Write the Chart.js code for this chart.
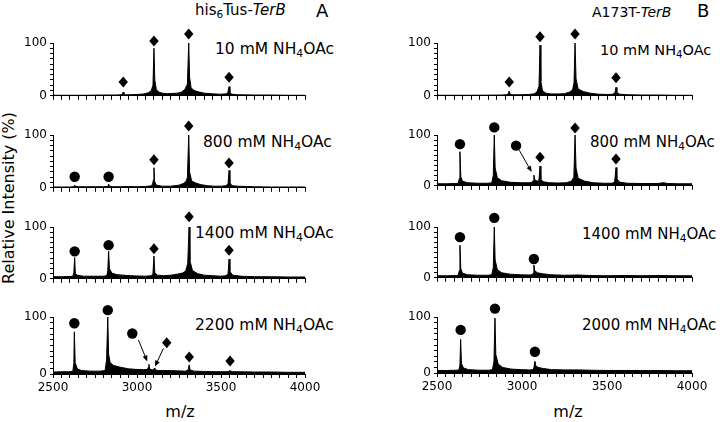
<!DOCTYPE html>
<html><head><meta charset="utf-8">
<script src="https://cdn.jsdelivr.net/npm/chart.js@4/dist/chart.umd.min.js"></script>
<style>
html,body{margin:0;padding:0;background:#fff;width:720px;height:422px;overflow:hidden;}
body{position:relative;font-family:'DejaVu Sans',Verdana,sans-serif;color:#000;}
canvas{position:absolute;}
.t{position:absolute;white-space:nowrap;line-height:1;}
.sub{font-size:0.7em;position:relative;top:0.3em;}
</style></head><body>

<div class="t" style="left:195px;top:3px;font-size:15px;">his<span class="sub">6</span>Tus-<i>TerB</i></div>
<div class="t" style="left:316px;top:2px;font-size:18px;">A</div>
<div class="t" style="left:592px;top:5px;font-size:14px;">A173T-<i>TerB</i></div>
<div class="t" style="left:697px;top:2px;font-size:18px;">B</div>

<div class="t" style="left:215px;top:42px;font-size:15.5px;">10 mM NH<span class="sub">4</span>OAc</div>
<div class="t" style="left:203px;top:135px;font-size:15.5px;">800 mM NH<span class="sub">4</span>OAc</div>
<div class="t" style="left:195px;top:226px;font-size:15.5px;">1400 mM NH<span class="sub">4</span>OAc</div>
<div class="t" style="left:195px;top:318px;font-size:15.5px;">2200 mM NH<span class="sub">4</span>OAc</div>
<div class="t" style="left:600px;top:43px;font-size:14.5px;">10 mM NH<span class="sub">4</span>OAc</div>
<div class="t" style="left:590px;top:135px;font-size:15px;">800 mM NH<span class="sub">4</span>OAc</div>
<div class="t" style="left:582px;top:227px;font-size:15px;">1400 mM NH<span class="sub">4</span>OAc</div>
<div class="t" style="left:582px;top:318px;font-size:15px;">2000 mM NH<span class="sub">4</span>OAc</div>

<div class="t" style="left:9px;top:198px;font-size:16px;transform:translate(-50%,-50%) rotate(-90deg);">Relative Intensity (%)</div>
<div class="t" style="left:180px;top:404px;font-size:16px;transform:translateX(-50%);">m/z</div>
<div class="t" style="left:568px;top:404px;font-size:16px;transform:translateX(-50%);">m/z</div>

<script>
// ---------- DATA ----------
const xTickLabels = [2500, 3000, 3500, 4000];
const yTickLabels = [0, 100];

// Panel A (his6Tus-TerB)
const mzL1 = [2500,2600,2700,2800,2880,2905,2912,2918,2922,2930,2960,3000,3040,3070,3085,3095,3101,3106,3115,3130,3150,3180,3210,3240,3265,3285,3300,3308,3313,3322,3340,3370,3400,3440,3490,3525,3540,3548,3553,3565,3600,3700,3800,3900,4000];
const intL1 = [1,1,1,1.5,1.5,2,3,7,3,2,2,2.5,3.5,6,10,20,90,30,12,7,5,4,4.5,5,7,12,22,100,35,15,10,7,5,4,3,3.5,5,17.5,6,3,2,1.5,1.5,1,1];
const circL1 = [];
const diaL1 = [[2918,26],[3101,104],[3308,117],[3548,35]];

const mzL2 = [2500,2600,2620,2626,2629,2633,2650,2700,2800,2822,2828,2831,2835,2860,2900,2950,3000,3050,3080,3092,3098,3101,3105,3115,3150,3200,3250,3275,3292,3300,3308,3313,3325,3350,3380,3420,3460,3500,3530,3542,3548,3553,3565,3600,3700,3800,3900,4000];
const intL2 = [1.5,1.5,2,3,5,2.5,2,2,2,2.5,4,7,3,2,2,2.5,2,2.5,3.5,6,15,38,12,5,3,3,5,8,12,20,100,30,13,9,6,4,3,3,4,8,33,10,4,3,2,1.5,1.5,1.5];
const circL2 = [[2629,21],[2831,21]];
const diaL2 = [[3101,53],[3308,117],[3548,47]];

const mzL3 = [2500,2560,2600,2618,2624,2629,2633,2645,2680,2740,2800,2820,2826,2831,2836,2850,2880,2920,2960,3000,3050,3085,3095,3101,3106,3120,3160,3200,3240,3270,3290,3302,3310,3315,3330,3360,3400,3450,3500,3530,3542,3548,3553,3570,3620,3700,3800,3900,4000];
const intL3 = [4,4,4.5,5,12,41,10,7,5,5,5,6,15,53,20,11,8,7,6,5.5,5,6,10,44,12,7,6,7,9,11,15,30,100,35,16,10,7,6,5,6,10,38,14,7,5,4,4,3.5,3.5];
const circL3 = [[2629,53],[2831,65]];
const diaL3 = [[3101,58],[3310,120],[3548,55]];

const mzL4 = [2500,2560,2600,2618,2624,2627,2632,2645,2670,2720,2780,2810,2819,2826,2831,2840,2860,2900,2950,3000,3040,3062,3068,3071,3075,3090,3098,3103,3107,3130,3180,3240,3290,3304,3311,3316,3340,3400,3470,3530,3548,3554,3558,3600,3700,3800,3900,4000];
const intL4 = [3.5,4,4,5,18,74,20,9,6,5,5,6,25,100,35,20,15,12,9,8,7.5,8,12,17,9,7,8,10,7,6,6,5.5,5,7,16,7,5,4.5,4,4,4.5,6,4,4,3.5,3.5,3,3];
const circL4 = [[2627,89],[2826,112],[2972,71]];
const diaL4 = [[3177,55],[3311,30],[3554,23]];
const arrowsL4 = [[3008,60,3061,22],[3157,45,3107,13]];

// Panel B (A173T-TerB)
const mzR1 = [2500,2600,2700,2800,2880,2910,2918,2925,2930,2945,2990,3040,3075,3090,3100,3106,3111,3120,3140,3170,3210,3250,3280,3298,3306,3312,3318,3330,3360,3400,3450,3500,3535,3547,3553,3558,3575,3620,3700,3800,3900,4000];
const intR1 = [1,1,1,1.2,1.5,2,3,9,3,2,2,2.5,4,9,18,96,28,10,5,3.5,3.5,4,7,12,25,100,32,13,8,5,3,2.5,3,6,16,6,3,2,1.5,1.5,1,1];
const circR1 = [];
const diaR1 = [[2925,26],[3106,112],[3312,117],[3553,34]];

const mzR2 = [2500,2560,2610,2625,2631,2635,2640,2650,2680,2740,2800,2822,2831,2837,2842,2855,2880,2930,2990,3040,3058,3065,3070,3075,3090,3100,3106,3111,3125,3160,3210,3260,3290,3305,3312,3318,3330,3370,3420,3480,3530,3545,3553,3558,3575,3620,3700,3800,3830,3860,3920,4000];
const intR2 = [4,4,4.5,5,14,67,18,9,6,5,5,6,20,100,35,16,10,7,6,6,7,10,21,12,9,12,39,13,8,6,5.5,6,9,17,100,35,15,9,6,5,5,8,36,14,7,5,4.5,4.5,6,4.5,4,4];
const circR2 = [[2635,82],[2837,115],[2965,79]];
const diaR2 = [[3106,56],[3312,114],[3553,53]];
const arrowsR2 = [[2984,70,3057,27]];

const mzR3 = [2500,2560,2610,2625,2631,2635,2640,2650,2680,2740,2800,2822,2831,2837,2842,2855,2880,2930,2990,3040,3058,3065,3070,3075,3090,3120,3170,3250,3330,3400,3500,3600,3700,3800,3900,4000];
const intR3 = [4,4,4.5,5,14,64,18,9,6,5,5,6,20,100,35,16,10,7,6,5.5,6,9,25,14,10,8,6,5,5.5,4.5,4,4.5,4,4.5,4,4];
const circR3 = [[2635,80],[2837,118],[3070,37]];
const diaR3 = [];

const mzR4 = [2500,2560,2615,2629,2635,2639,2644,2655,2685,2745,2805,2826,2835,2841,2846,2860,2885,2935,2995,3045,3063,3070,3076,3081,3095,3125,3175,3255,3330,3400,3500,3600,3700,3800,3900,4000];
const intR4 = [4.5,4.5,5,5.5,14,60,17,9,6,5,5,6,20,98,33,16,10,7,6,5.5,6,9,21,13,10,8,6,5.5,5.5,5,4.5,4.5,4.5,4.5,4,4];
const circR4 = [[2639,77],[2841,115],[3076,38]];
const diaR4 = [];

// ---------- LAYOUT ----------
const SIDES = {
  L: {canvasLeft: 0, plotLeft: 53, plotRight: 305, rows: [[43,100],[135,192],[227,283],[317,374]]},
  R: {canvasLeft: 380, plotLeft: 437, plotRight: 692, rows: [[43,100],[135,190],[227,282],[317,373]]}
};
const CW = 340, PADTOP = 25;

const panels = [
  {side:'L', row:0, mz:mzL1, y:intL1, circ:circL1, dia:diaL1, arrows:[]},
  {side:'L', row:1, mz:mzL2, y:intL2, circ:circL2, dia:diaL2, arrows:[]},
  {side:'L', row:2, mz:mzL3, y:intL3, circ:circL3, dia:diaL3, arrows:[]},
  {side:'L', row:3, mz:mzL4, y:intL4, circ:circL4, dia:diaL4, arrows:arrowsL4},
  {side:'R', row:0, mz:mzR1, y:intR1, circ:circR1, dia:diaR1, arrows:[]},
  {side:'R', row:1, mz:mzR2, y:intR2, circ:circR2, dia:diaR2, arrows:arrowsR2},
  {side:'R', row:2, mz:mzR3, y:intR3, circ:circR3, dia:diaR3, arrows:[]},
  {side:'R', row:3, mz:mzR4, y:intR4, circ:circR4, dia:diaR4, arrows:[]}
];

Chart.defaults.font.family = "'DejaVu Sans', Verdana, sans-serif";
Chart.defaults.color = '#000';

// Draws peak markers (circles, diamonds) and arrows through the chart's scales
const markerPlugin = {
  id: 'markers',
  afterDatasetsDraw(chart, args, opts) {
    const ctx = chart.ctx, xs = chart.scales.x, ys = chart.scales.y;
    ctx.save();
    ctx.strokeStyle = '#000'; ctx.fillStyle = '#000'; ctx.lineWidth = 1;
    (opts.arrows || []).forEach(a => {
      const x1 = xs.getPixelForValue(a[0]), y1 = ys.getPixelForValue(a[1]);
      const x2 = xs.getPixelForValue(a[2]), y2 = ys.getPixelForValue(a[3]);
      const ang = Math.atan2(y2 - y1, x2 - x1), L = 6, W = 2.5;
      const bx = x2 - L * Math.cos(ang), by = y2 - L * Math.sin(ang);
      ctx.beginPath(); ctx.moveTo(x1, y1); ctx.lineTo(bx, by); ctx.stroke();
      ctx.beginPath();
      ctx.moveTo(x2, y2);
      ctx.lineTo(bx + W * Math.sin(ang), by - W * Math.cos(ang));
      ctx.lineTo(bx - W * Math.sin(ang), by + W * Math.cos(ang));
      ctx.closePath(); ctx.fill();
    });
    (opts.circles || []).forEach(c => {
      const px = xs.getPixelForValue(c[0]), py = ys.getPixelForValue(c[1]);
      ctx.beginPath(); ctx.arc(px, py, 5.2, 0, Math.PI * 2); ctx.fill();
    });
    (opts.diamonds || []).forEach(c => {
      const px = xs.getPixelForValue(c[0]), py = ys.getPixelForValue(c[1]);
      ctx.beginPath();
      ctx.moveTo(px, py - 5.5); ctx.lineTo(px + 4.7, py);
      ctx.lineTo(px, py + 5.5); ctx.lineTo(px - 4.7, py);
      ctx.closePath(); ctx.fill();
    });
    ctx.restore();
  }
};

const xTickValues = [];
for (let v = xTickLabels[0]; v <= xTickLabels[xTickLabels.length - 1]; v += 50) xTickValues.push(v);
const yTickValues = [];
for (let v = yTickLabels[0]; v <= yTickLabels[1]; v += 10) yTickValues.push(v);

panels.forEach(p => {
  const S = SIDES[p.side];
  const [top, bottom] = S.rows[p.row];
  const isBottom = p.row === 3;
  const xH = isBottom ? 28 : 6;
  const h = PADTOP + (bottom - top) + xH;
  const cv = document.createElement('canvas');
  cv.width = CW; cv.height = h;
  cv.style.left = S.canvasLeft + 'px';
  cv.style.top = (top - PADTOP) + 'px';
  cv.style.width = CW + 'px'; cv.style.height = h + 'px';
  document.body.appendChild(cv);
  const yW = S.plotLeft - S.canvasLeft;
  const padR = S.canvasLeft + CW - S.plotRight;

  new Chart(cv.getContext('2d'), {
    type: 'line',
    data: {
      datasets: [
        {
          data: p.mz.map((m, i) => ({x: m, y: p.y[i]})),
          borderColor: '#000', backgroundColor: '#000', borderWidth: 1,
          fill: 'origin', pointRadius: 0, tension: 0
        }
      ]
    },
    plugins: [markerPlugin],
    options: {
      responsive: false, animation: false, events: [],
      layout: {padding: {left: 0, right: padR, top: PADTOP, bottom: 0}},
      plugins: {
        legend: {display: false}, tooltip: {enabled: false},
        markers: {arrows: p.arrows, circles: p.circ, diamonds: p.dia}
      },
      scales: {
        x: {
          type: 'linear', min: xTickLabels[0], max: xTickLabels[xTickLabels.length - 1],
          afterBuildTicks: s => { s.ticks = xTickValues.map(v => ({value: v})); },
          afterFit: s => { s.height = xH; },
          ticks: {
            display: isBottom, autoSkip: false, maxRotation: 0, padding: 3,
            font: {size: 12}, color: '#000',
            callback: v => xTickLabels.includes(v) ? String(v) : ''
          },
          grid: {display: true, drawOnChartArea: false, drawTicks: true, tickLength: 4, color: '#000', lineWidth: 1},
          border: {display: true, color: '#000', width: 1}
        },
        y: {
          min: 0, max: 100,
          afterBuildTicks: s => { s.ticks = yTickValues.map(v => ({value: v})); },
          afterFit: s => { s.width = yW; },
          ticks: {
            autoSkip: false, padding: 3, font: {size: 12}, color: '#000',
            callback: v => yTickLabels.includes(v) ? String(v) : ''
          },
          grid: {display: true, drawOnChartArea: false, drawTicks: true, tickLength: 3, color: '#000', lineWidth: 1},
          border: {display: true, color: '#000', width: 1}
        }
      }
    }
  });
});
</script>
</body></html>
